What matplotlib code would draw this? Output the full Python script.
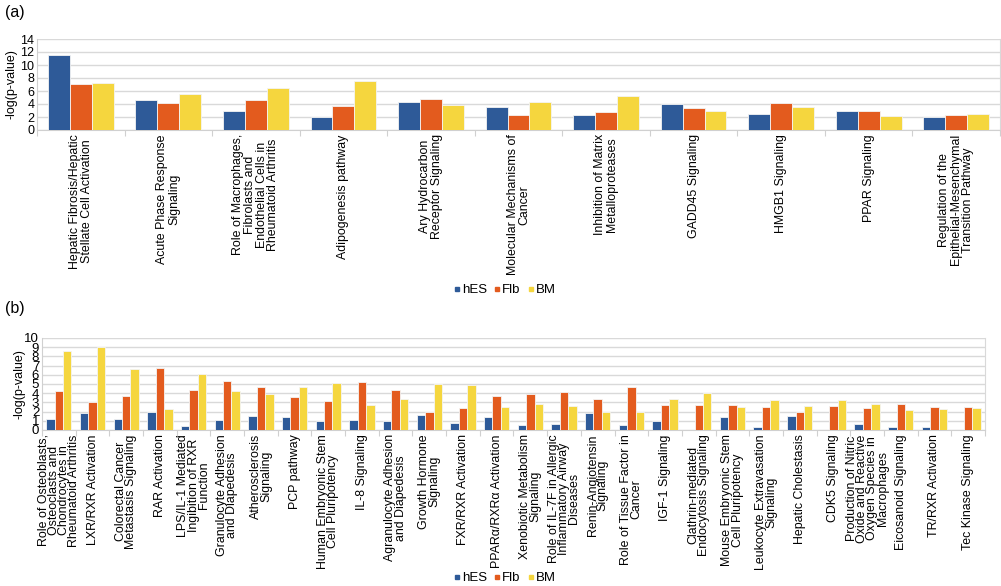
import matplotlib.pyplot as plt
import numpy as np
from matplotlib.lines import Line2D

plt.rcParams['font.family'] = ['Liberation Sans', 'DejaVu Sans']

# Panel (a) data
cats_a = ['Hepatic Fibrosis/Hepatic\nStellate Cell Activation',
          'Acute Phase Response\nSignaling',
          'Role of Macrophages,\nFibrolasts and\nEndothelial Cells in\nRheumatoid Arthritis',
          'Adipogenesis pathway',
          'Ary Hydrocarbon\nReceptor Signaling',
          'Molecular Mechanisms of\nCancer',
          'Inhibition of Matrix\nMetalloproteases',
          'GADD45 Signaling',
          'HMGB1 Signaling',
          'PPAR Signaling',
          'Regulation of the\nEpithelial-Mesenchymal\nTransition Pathway']
hes_a = [11.5, 4.6, 3.0, 2.05, 4.35, 3.6, 2.3, 4.0, 2.4, 2.9, 2.05]
flb_a = [7.1, 4.1, 4.6, 3.7, 4.7, 2.35, 2.7, 3.4, 4.15, 2.9, 2.3]
bm_a = [7.3, 5.6, 6.5, 7.6, 3.9, 4.35, 5.2, 2.9, 3.5, 2.1, 2.4]

# Panel (b) data
cats_b = ['Role of Osteoblasts,\nOsteoclasts and\nChondrocytes in\nRheumatoid Arthritis',
          'LXR/RXR Activation',
          'Colorectal Cancer\nMetastasis Signaling',
          'RAR Activation',
          'LPS/IL-1 Mediated\nIngibition of RXR\nFunction',
          'Granulocyte Adhesion\nand Diapedesis',
          'Atherosclerosis\nSignaling',
          'PCP pathway',
          'Human Embryonic Stem\nCell Pluripotency',
          'IL-8 Signaling',
          'Agranulocyte Adhesion\nand Diapedesis',
          'Growth Hormone\nSignaling',
          'FXR/RXR Activation',
          'PPARα/RXRα Activation',
          'Xenobiotic Metabolism\nSignaling',
          'Role of IL-7F in Allergic\nInflammatory Airway\nDiseases',
          'Renin-Angiotensin\nSignaling',
          'Role of Tissue Factor in\nCancer',
          'IGF-1 Signaling',
          'Clathrin-mediated\nEndocytosis Signaling',
          'Mouse Embryonic Stem\nCell Pluripotency',
          'Leukocyte Extravasation\nSignaling',
          'Hepatic Cholestasis',
          'CDK5 Signaling',
          'Production of Nitric\nOxide and Reactive\nOxygen Species in\nMacrophages',
          'Eicosanoid Signaling',
          'TR/RXR Activation',
          'Tec Kinase Signaling']
hes_b = [1.2, 1.9, 1.25, 1.95, 0.4, 1.1, 1.55, 1.4, 1.0, 1.1, 0.95, 1.6, 0.75, 1.4,
         0.55, 0.6, 1.8, 0.55, 0.95, 0.0, 1.4, 0.35, 1.5, 0.0, 0.65, 0.3, 0.3, 0.0]
flb_b = [4.2, 3.0, 3.75, 6.75, 4.35, 5.3, 4.65, 3.55, 3.15, 5.2, 4.35, 2.0, 2.35, 3.65,
         3.95, 4.1, 3.4, 4.65, 2.7, 2.7, 2.75, 2.45, 2.0, 2.6, 2.4, 2.85, 2.55, 2.45]
bm_b = [8.55, 9.05, 6.6, 2.3, 6.05, 4.2, 3.95, 4.7, 5.1, 2.7, 3.4, 5.0, 4.85, 2.45,
        2.8, 2.6, 2.0, 2.0, 3.35, 4.0, 2.45, 3.25, 2.6, 3.25, 2.85, 2.2, 2.3, 2.35]

series_names = ['hES', 'Flb', 'BM']
colors = ['#2E5A98', '#E35B1E', '#F5D63E']

W, H = 1001, 586
fig = plt.figure(figsize=(W / 100, H / 100), dpi=100)


def px_axes(left, top, right, bottom):
    return fig.add_axes([left / W, 1 - bottom / H, (right - left) / W, (bottom - top) / H])


def draw_panel(ax, cats, data, ymax, fsize, linesp, ylab_x):
    n = len(cats)
    x = np.arange(n)
    w = 0.25
    for i, (vals, col) in enumerate(zip(data, colors)):
        ax.bar(x + (i - 1) * w, vals, width=w, color=col, edgecolor='#f4f4f4',
               linewidth=0.6, zorder=3)
    ax.set_xlim(-0.5, n - 0.5)
    ax.set_ylim(0, ymax)
    ax.set_yticks(range(0, ymax + 1, 2 if ymax > 10 else 1))
    ax.yaxis.grid(True, color='#d9d9d9', linewidth=1.0, zorder=0)
    ax.set_xticks(x)
    ax.set_xticklabels(cats, rotation=90, ha='center', va='top', multialignment='center',
                       fontsize=fsize, linespacing=linesp)
    ax.set_xticks(np.arange(n + 1) - 0.5, minor=True)
    ax.tick_params(axis='x', which='major', length=0, pad=3)
    ax.tick_params(axis='x', which='minor', length=4, color='#d0d0d0', width=0.8)
    ax.tick_params(axis='y', length=0, labelsize=9, pad=2)
    for s in ['left', 'bottom']:
        ax.spines[s].set_color('#d0d0d0')
    ax.spines['top'].set_visible(False)
    ax.spines['right'].set_color('#d9d9d9')
    ax.set_ylabel('-log(p-value)', fontsize=9)
    ax.yaxis.set_label_coords(ylab_x, 0.5)


ax_a = px_axes(37, 39, 1000, 130)
draw_panel(ax_a, cats_a, [hes_a, flb_a, bm_a], 14, 8.9, 0.97, (18 - 37) / 963)

ax_b = px_axes(42, 338, 985, 430)
draw_panel(ax_b, cats_b, [hes_b, flb_b, bm_b], 10, 8.9, 0.82, (26 - 42) / 943)
ax_b.tick_params(axis='y', labelsize=9.5)

fig.text(5 / W, 1 - 12 / H, '(a)', fontsize=11.5, va='center', ha='left')
fig.text(5 / W, 1 - 308 / H, '(b)', fontsize=11.5, va='center', ha='left')

handles = [Line2D([], [], marker='s', linestyle='none', markersize=3, color=c) for c in colors]
for ypix in [290, 578]:
    fig.legend(handles, series_names, loc='center', bbox_to_anchor=(505 / W, 1 - ypix / H),
               ncol=3, frameon=False, fontsize=9.5, handlelength=0.4, handletextpad=0.15,
               columnspacing=0.6, borderpad=0)

fig.savefig('out.png', dpi=100)
